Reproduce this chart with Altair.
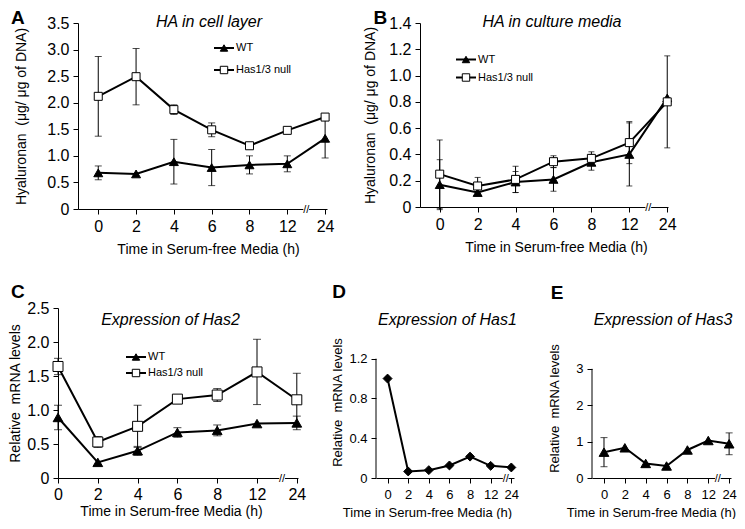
import altair as alt
import pandas as pd

TIMES = ["0", "2", "4", "6", "8", "12", "24"]
SERIES = ["WT", "Has1/3 null"]

# Panel A: HA in cell layer (ug / ug of DNA)
A_WT = [0.68, 0.66, 0.89, 0.78, 0.83, 0.85, 1.33]
A_WT_ERR = [0.13, 0.0, 0.42, 0.34, 0.17, 0.15, 0.37]
A_HAS = [2.12, 2.49, 1.87, 1.49, 1.19, 1.48, 1.73]
A_HAS_ERR = [0.75, 0.53, 0.09, 0.13, 0.0, 0.0, 0.0]

# Panel B: HA in culture media
B_WT = [0.17, 0.11, 0.19, 0.21, 0.34, 0.40, 0.83]
B_WT_ERR = [0.19, 0.0, 0.08, 0.09, 0.06, 0.24, 0.0]
B_HAS = [0.25, 0.16, 0.21, 0.345, 0.37, 0.49, 0.80]
B_HAS_ERR = [0.26, 0.065, 0.10, 0.045, 0.05, 0.16, 0.35]

# Panel C: Expression of Has2
C_WT = [0.89, 0.23, 0.40, 0.67, 0.70, 0.80, 0.81]
C_WT_ERR = [0.18, 0.0, 0.065, 0.07, 0.08, 0.0, 0.10]
C_HAS = [1.64, 0.53, 0.76, 1.16, 1.22, 1.56, 1.15]
C_HAS_ERR = [0.12, 0.08, 0.31, 0.0, 0.095, 0.48, 0.39]

# Panel D: Expression of Has1
D_VAL = [1.0, 0.066, 0.079, 0.126, 0.215, 0.122, 0.106]
D_ERR = [0.0, 0.0, 0.0, 0.0, 0.0, 0.0, 0.0]

# Panel E: Expression of Has3
E_VAL = [0.71, 0.83, 0.40, 0.33, 0.77, 1.03, 0.94]
E_ERR = [0.40, 0.0, 0.0, 0.0, 0.0, 0.0, 0.30]

FONT = "Liberation Sans"


def frame(values, errs, series):
    rows = []
    for i, (t, v, e) in enumerate(zip(TIMES, values, errs)):
        rows.append(dict(idx=i, time=t, value=v, lo=v - e, hi=v + e, err=e, series=series))
    return pd.DataFrame(rows)


def make_panel(c):
    xs = alt.Scale(domain=c["xdom"], nice=False, zero=False)
    ys = alt.Scale(domain=[0, c["ymax"]], nice=False, zero=False)
    label_expr = "[" + ",".join("'%s'" % t for t in TIMES) + "][datum.value]"
    xaxis = alt.Axis(values=list(range(len(TIMES))), labelExpr=label_expr,
                     title="Time in Serum-free Media (h)", labelFontSize=c["tfs"],
                     titleFontSize=c["afs"], labelPadding=c["xlp"], titlePadding=c["xtp"],
                     titleX=c["xtx"], titleAlign="center",
                     tickSize=5, grid=False, labelFlush=False)
    yextra = {}
    if c.get("yty") is not None:
        yextra["titleY"] = c["yty"]
    yaxis = alt.Axis(values=c["yticks"], labelExpr=c["ylab"], title=c["ytitle"],
                     labelFontSize=c["tfs"], titleFontSize=c["afs"], labelPadding=c["ylp"],
                     titlePadding=c["ytp"], tickSize=5, grid=False, domain=c["ydomline"],
                     labelFlush=False, **yextra)
    X = alt.X("idx:Q", scale=xs, axis=xaxis)
    layers = []

    for s in c["series"]:
        df = s["df"]
        eb = alt.Chart(df).transform_filter("datum.err > 0")
        layers.append(eb.mark_rule(color="black", strokeWidth=1).encode(
            x=X, y=alt.Y("lo:Q", scale=ys, axis=yaxis), y2="hi:Q"))
        for f in ["lo", "hi"]:
            layers.append(eb.mark_tick(color="black", thickness=1, size=c["cap"],
                                       orient="horizontal").encode(
                x=X, y=alt.Y(f + ":Q", scale=ys, axis=yaxis)))
    for s in c["series"]:
        layers.append(alt.Chart(s["df"]).mark_line(color="black", strokeWidth=2).encode(
            x=X, y=alt.Y("value:Q", scale=ys, axis=yaxis)))
    for s in c["series"]:
        layers.append(alt.Chart(s["df"]).mark_point(
            shape=s["shape"], size=s["size"], fill=s["fill"], stroke="black",
            strokeWidth=1, opacity=1, fillOpacity=1).encode(
            x=X, y=alt.Y("value:Q", scale=ys, axis=yaxis)))

    # axis break on the x axis between 12 and 24
    brk = pd.DataFrame({"idx": [c["brk"]], "value": [0.0]})
    layers.append(alt.Chart(brk).mark_point(shape="square", size=14, fill="white",
                                            stroke="white", opacity=1, filled=True).encode(
        x=X, y=alt.Y("value:Q", scale=ys, axis=yaxis)))
    layers.append(alt.Chart(brk).mark_text(text="//", font=FONT, fontSize=11,
                                           color="black", dy=1).encode(
        x=X, y=alt.Y("value:Q", scale=ys, axis=yaxis)))

    if not c["ydomline"]:
        layers.append(alt.Chart(brk).mark_rule(color="black", strokeWidth=1).encode(
            x=alt.value(0), y=alt.datum(0, scale=ys), y2=alt.datum(c["ytop"])))

    one = pd.DataFrame({"a": [0]})
    if c.get("legend"):
        cx, cy, step = c["legend"]
        for k, s in enumerate(c["series"]):
            yy = cy + k * step
            layers.append(alt.Chart(one).mark_rule(color="black", strokeWidth=2).encode(
                x=alt.value(cx - 10), x2=alt.value(cx + 10), y=alt.value(yy)))
            layers.append(alt.Chart(one).mark_point(
                shape=s["shape"], size=55, fill=s["fill"], stroke="black", strokeWidth=1,
                opacity=1, fillOpacity=1).encode(x=alt.value(cx), y=alt.value(yy)))
            layers.append(alt.Chart(one).mark_text(
                text=s["df"]["series"].iloc[0], font=FONT, fontSize=11, color="black",
                align="left", baseline="middle").encode(
                x=alt.value(cx + 12), y=alt.value(yy)))

    tx, ty = c["title_pos"]
    layers.append(alt.Chart(one).mark_text(text=c["title"], font=FONT, fontSize=16,
                                           fontStyle="italic", color="black",
                                           align="center", baseline="alphabetic").encode(
        x=alt.value(tx), y=alt.value(ty)))
    lx, ly = c["letter_pos"]
    layers.append(alt.Chart(one).mark_text(text=c["letter"], font=FONT, fontSize=19,
                                           fontWeight="bold", color="black",
                                           align="left", baseline="top").encode(
        x=alt.value(lx), y=alt.value(ly)))

    return alt.layer(*layers).properties(width=c["w"], height=c["h"])


def two(a, b, sa="WT", sb="Has1/3 null", ea=None, eb=None, big=False):
    return [
        dict(df=frame(a, ea, sa), shape="triangle-up", size=95 if big else 80, fill="black"),
        dict(df=frame(b, eb, sb), shape="square", size=100 if big else 64, fill="white"),
    ]


lab1 = "datum.value == 0 ? '0' : format(datum.value, '.1f')"
ROW2_H = 170

A = make_panel(dict(
    series=two(A_WT, A_HAS, ea=A_WT_ERR, eb=A_HAS_ERR), xdom=[-0.536, 6.05], ymax=3.5,
    yticks=[0, 0.5, 1, 1.5, 2, 2.5, 3, 3.5], ylab=lab1,
    ytitle="Hyaluronan\u00a0 (\u03bcg/ \u03bcg of DNA)", tfs=16, afs=14, xlp=4, xtp=8,
    xtx=130, ylp=4, ytp=18, ydomline=True, cap=7, brk=5.5, legend=(146, 25, 22),
    title="HA in cell layer", title_pos=(131, 4), letter="A", letter_pos=(-67, -14.3),
    w=249, h=186))

B = make_panel(dict(
    series=two(B_WT, B_HAS, ea=B_WT_ERR, eb=B_HAS_ERR), xdom=[-0.52, 6.02], ymax=1.4,
    yticks=[0, 0.2, 0.4, 0.6, 0.8, 1.0, 1.2, 1.4], ylab=lab1,
    ytitle="Hyaluronan\u00a0 (\u03bcg/ \u03bcg of DNA)", tfs=16, afs=14, xlp=4, xtp=8,
    xtx=136, ylp=4, ytp=11, ydomline=True, cap=6, brk=5.5, legend=(46, 36.5, 18),
    title="HA in culture media", title_pos=(132, 4), letter="B", letter_pos=(-46.6, -14.3),
    w=248, h=184))

C = make_panel(dict(
    series=two(C_WT, C_HAS, ea=C_WT_ERR, eb=C_HAS_ERR, big=True), xdom=[0, 6.03], ymax=2.5,
    yticks=[0, 0.5, 1, 1.5, 2, 2.5], ylab=lab1,
    ytitle="Relative\u00a0 mRNA levels", tfs=16, afs=14, xlp=3, xtp=2,
    xtx=113, ylp=4, ytp=4, ydomline=True, cap=8, brk=5.63, legend=(78, 49, 16),
    title="Expression of Has2", title_pos=(112.5, 16.7), letter="C", letter_pos=(-47, -25.3),
    w=240, h=ROW2_H))

D = make_panel(dict(
    series=[dict(df=frame(D_VAL, D_ERR, "Has1"), shape="diamond", size=80, fill="black")],
    xdom=[-0.56, 6.13], ymax=1.2 * 172.4 / 121, ytop=1.2,
    yticks=[0, 0.2, 0.4, 0.6, 0.8, 1.0, 1.2],
    ylab="datum.value == 0 ? '0' : (abs(datum.value*10 % 4) < 0.01 ? format(datum.value, '.1f') : '')",
    ytitle="Relative\u00a0 mRNA levels", tfs=13, afs=13, xlp=5, xtp=5,
    xtx=51, yty=94, ylp=4, ytp=4, ydomline=False, cap=7, brk=5.73,
    title="Expression of Has1", title_pos=(71.4, 16.7), letter="D", letter_pos=(-43.8, -25.3),
    w=138, h=ROW2_H))

E = make_panel(dict(
    series=[dict(df=frame(E_VAL, E_ERR, "Has3"), shape="triangle-up", size=95, fill="black")],
    xdom=[-0.575, 6.09], ymax=3 * 172.4 / 110.7, ytop=3,
    yticks=[0, 0.5, 1, 1.5, 2, 2.5, 3],
    ylab="datum.value % 1 == 0 ? format(datum.value, 'd') : ''",
    ytitle="Relative\u00a0 mRNA levels", tfs=13, afs=13, xlp=5, xtp=5,
    xtx=59, yty=100, ylp=4, ytp=14, ydomline=False, cap=7, brk=5.46,
    title="Expression of Has3", title_pos=(71, 16.7), letter="E", letter_pos=(-41.3, -23.6),
    w=139, h=ROW2_H))

spacer = alt.Chart(pd.DataFrame({"a": [0]})).mark_point(opacity=0).encode(
    x=alt.value(0), y=alt.value(0)).properties(width=20, height=10)

row1_inner = alt.hconcat(A, B, spacing=93, bounds="flush")
row1 = alt.hconcat(spacer, row1_inner, spacing=0, bounds="flush")
row2 = alt.hconcat(C, D, E, spacing=78, bounds="flush")

chart = alt.vconcat(row1, row2, spacing=285, bounds="flush").properties(
    padding=0
).configure_view(stroke=None).configure_axis(
    labelFont=FONT, titleFont=FONT, labelColor="black", titleColor="black",
    titleFontWeight="normal", domainColor="black", tickColor="black",
    domainWidth=1, tickWidth=1
)

chart.save("out.html", embed_options={"renderer": "svg", "actions": False})
